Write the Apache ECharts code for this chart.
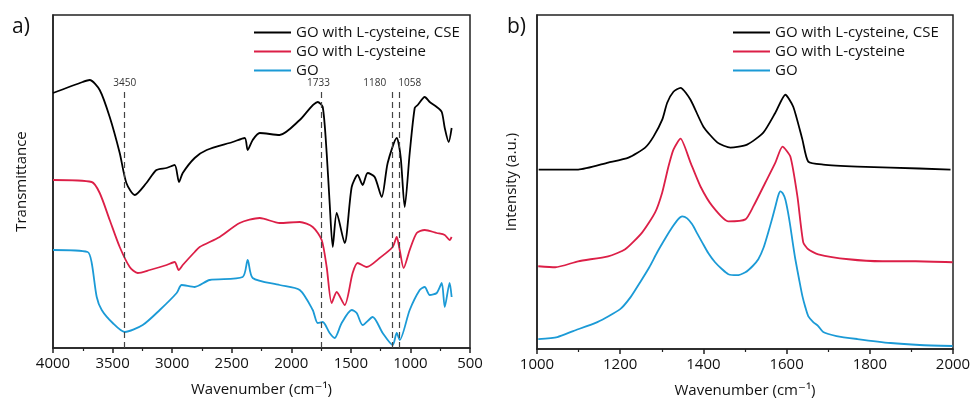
<!DOCTYPE html>
<html>
<head>
<meta charset="utf-8">
<script src="https://cdn.jsdelivr.net/npm/echarts@6/dist/echarts.min.js"></script>
<style>
html,body{margin:0;padding:0;background:#fff;}
#c{width:974px;height:403px;}
</style>
</head>
<body>
<div id="c"></div>
<script>
// ---- FTIR (panel a): [wavenumber, transmittance (a.u.)]
var ftirCSE = [[4000,255],[3751,266],[3692,268],[3608,258],[3524,231],[3440,195],[3384,165],[3314,153],[3216,165],[3132,178],[3048,180],[2979,183],[2942,166],[2911,175],[2811,190],[2710,198],[2492,206],[2391,210],[2366,198],[2324,208],[2265,215],[2098,213],[1929,228],[1778,246],[1736,241],[1703,195],[1678,145],[1652,101],[1619,135],[1552,105],[1493,161],[1443,173],[1401,163],[1359,175],[1300,171],[1241,151],[1191,185],[1115,210],[1082,191],[1048,141],[1006,195],[964,240],[939,243],[880,251],[838,246],[779,241],[737,236],[712,220],[679,206],[654,220]];
var ftirLcys = [[4000,168],[3675,166],[3608,155],[3524,128],[3440,101],[3356,81],[3289,75],[3188,78],[3046,83],[2979,86],[2945,78],[2911,83],[2811,96],[2769,101],[2601,111],[2433,125],[2265,130],[2098,125],[1929,126],[1820,121],[1745,108],[1703,81],[1661,45],[1619,56],[1552,43],[1485,75],[1443,85],[1368,81],[1258,90],[1149,101],[1115,111],[1090,98],[1057,80],[1006,98],[947,115],[880,118],[779,115],[712,113],[671,108],[654,111]];
var ftirGO = [[4000,98],[3709,96],[3675,85],[3633,51],[3591,38],[3499,25],[3398,16],[3247,23],[3104,38],[2962,55],[2920,63],[2811,61],[2685,68],[2408,71],[2366,88],[2324,70],[2098,63],[1929,58],[1820,38],[1778,25],[1736,26],[1678,15],[1636,10],[1577,25],[1493,38],[1451,35],[1401,23],[1317,31],[1233,15],[1149,3],[1115,15],[1090,8],[1006,38],[922,58],[880,61],[838,53],[779,55],[737,65],[712,41],[671,65],[654,51]];
// ---- Raman (panel b): [wavenumber, intensity (a.u.)]
var ramanCSE = [[1004,180],[1099,180],[1171,187],[1220,192],[1260,202],[1280,213],[1301,230],[1313,247],[1328,258],[1345,262],[1369,250],[1400,223],[1434,207],[1465,202],[1505,205],[1544,217],[1573,237],[1597,255],[1616,243],[1638,210],[1652,188],[1688,185],[1770,183],[1850,182],[1994,180]];
var ramanLcys = [[1003,83],[1044,82],[1099,88],[1171,93],[1212,100],[1253,117],[1284,137],[1301,157],[1316,183],[1328,200],[1345,211],[1369,187],[1393,163],[1422,143],[1460,128],[1501,130],[1520,143],[1549,167],[1573,187],[1590,203],[1609,193],[1626,153],[1640,107],[1652,100],[1676,95],[1749,90],[1830,88],[1910,88],[1999,87]];
var ramanGO = [[1003,10],[1049,12],[1087,18],[1145,27],[1200,40],[1225,52],[1248,67],[1270,82],[1289,97],[1310,112],[1325,122],[1339,130],[1349,133],[1361,131],[1373,125],[1385,116],[1397,107],[1412,96],[1428,87],[1445,80],[1460,75],[1480,74],[1501,77],[1518,83],[1532,90],[1545,102],[1556,117],[1566,132],[1573,143],[1580,154],[1585,158],[1591,156],[1597,150],[1603,138],[1609,123],[1615,106],[1621,90],[1630,70],[1638,53],[1645,42],[1652,33],[1664,27],[1676,23],[1688,17],[1720,13],[1770,10],[1850,6],[1920,4],[1999,3]];
// ---- annotations (panel a): drawn position and label
var peakLines = [3398, 1747, 1149, 1098];
var peakLabels = ['3450', '1733', '1180', '1058'];
var seriesNames = ['GO with L-cysteine, CSE', 'GO with L-cysteine', 'GO'];
var colors = ['#000000', '#dc1f47', '#1b9ad6'];

var FONT = '"Open Sans", "DejaVu Sans", sans-serif';
var TXT = '#111';
var chart = echarts.init(document.getElementById('c'));

var labelPads = [[0,0,0,0],[0,6,0,0],[0,36,0,0],[0,0,0,22]];
var markData = peakLines.map(function (x, i) {
  return [
    {coord: [x, 0], label: {show: true, position: 'end', formatter: peakLabels[i], padding: labelPads[i], distance: 2, color: '#333', fontSize: 10, fontFamily: FONT}},
    {coord: [x, 258]}
  ];
});

function xAxisCfg(idx, min, max, interval, inverse) {
  return {
    type: 'value', gridIndex: idx, min: min, max: max, interval: interval, inverse: inverse,
    name: 'Wavenumber (cm\u207B\u00B9)', nameLocation: 'middle', nameGap: 34,
    nameTextStyle: {fontFamily: FONT, fontSize: 15, color: TXT},
    axisLine: {show: true, onZero: false, lineStyle: {color: '#222', width: 1.5}},
    axisTick: {show: true, inside: false, length: 5, lineStyle: {color: '#222', width: 1.5}},
    minorTick: {show: true, splitNumber: 2, length: 3, lineStyle: {color: '#222', width: 1.2}},
    axisLabel: {fontFamily: FONT, fontSize: 15, color: TXT, margin: 8, formatter: function (v) { return String(v); }},
    splitLine: {show: false}
  };
}
function yAxisCfg(idx, max, name, gap) {
  return {
    type: 'value', gridIndex: idx, min: 0, max: max,
    name: name, nameLocation: 'middle', nameGap: gap,
    nameTextStyle: {fontFamily: FONT, fontSize: 15, color: TXT},
    axisLine: {show: true, lineStyle: {color: '#222', width: 1.5}},
    axisTick: {show: false}, axisLabel: {show: false}, splitLine: {show: false}
  };
}
function lineSeries(name, data, xi, color, extra) {
  var s = {
    name: name, type: 'line', xAxisIndex: xi, yAxisIndex: xi, data: data,
    symbol: 'none', showSymbol: false, smooth: 0.25, animation: false,
    lineStyle: {color: color, width: 1.8, join: 'round'}, itemStyle: {color: color}, z: 3
  };
  if (extra) for (var k in extra) s[k] = extra[k];
  return s;
}

var legendBase = {
  orient: 'vertical', top: 20, itemGap: 4, itemWidth: 37, itemHeight: 2, icon: 'rect',
  textStyle: {fontFamily: FONT, fontSize: 15, color: TXT}, data: seriesNames, selectedMode: false
};

chart.setOption({
  animation: false,
  backgroundColor: '#fff',
  grid: [
    {left: 53, top: 15, width: 417, height: 333, show: true, borderColor: '#222', borderWidth: 1.5, backgroundColor: 'transparent'},
    {left: 537, top: 15, width: 416, height: 335, show: true, borderColor: '#222', borderWidth: 1.5, backgroundColor: 'transparent'}
  ],
  xAxis: [xAxisCfg(0, 500, 4000, 500, true), xAxisCfg(1, 1000, 2000, 200, false)],
  yAxis: [yAxisCfg(0, 333, 'Transmittance', 24), yAxisCfg(1, 335, 'Intensity (a.u.)', 18)],
  legend: [
    Object.assign({}, legendBase, {left: 249}),
    Object.assign({}, legendBase, {left: 728})
  ],
  graphic: [
    {type: 'text', left: 12, top: 17, style: {text: 'a)', font: '21px ' + FONT, fill: '#111'}},
    {type: 'text', left: 507, top: 17, style: {text: 'b)', font: '21px ' + FONT, fill: '#111'}}
  ],
  series: [
    lineSeries(seriesNames[0], ftirCSE, 0, colors[0], {
      markLine: {silent: true, symbol: ['none', 'none'], animation: false,
        lineStyle: {color: '#444', type: [6, 4], width: 1.2}, data: markData}
    }),
    lineSeries(seriesNames[1], ftirLcys, 0, colors[1]),
    lineSeries(seriesNames[2], ftirGO, 0, colors[2]),
    lineSeries(seriesNames[0], ramanCSE, 1, colors[0], {smooth: 0.2}),
    lineSeries(seriesNames[1], ramanLcys, 1, colors[1], {smooth: 0.2}),
    lineSeries(seriesNames[2], ramanGO, 1, colors[2], {smooth: 0.2})
  ]
});
</script>
</body>
</html>
